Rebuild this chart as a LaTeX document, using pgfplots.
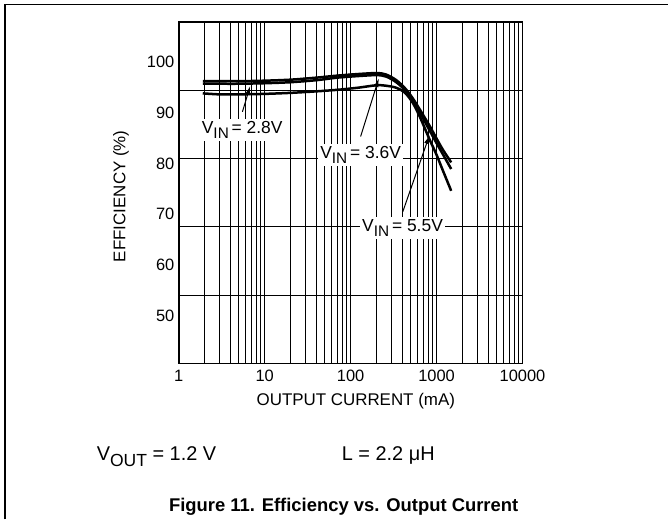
\documentclass[border=0pt]{standalone}
\usepackage{fontspec}
\setmainfont{Liberation Sans}
\usepackage{graphicx}
\usepackage{pgfplots}
\pgfplotsset{compat=1.18}
\usetikzlibrary{arrows.meta}
\newcommand{\sub}[1]{\raisebox{-0.28em}{\scalebox{0.88}{#1}}}
\begin{document}
\begin{tikzpicture}
\path (0,0) rectangle (669bp,520bp);
\draw[line width=1.4bp] (5bp,0bp) -- (5bp,515.5bp) -- (669bp,515.5bp);
\begin{axis}[
  at={(179bp,156bp)}, anchor=south west,
  scale only axis, width=344bp, height=342bp,
  xmode=log, xmin=1, xmax=10000,
  ymin=40.55, ymax=107.87,
  axis line style={line width=1.6bp},
  xtick={1,10,100,1000,10000},
  xticklabels={1,10,100,1000,10000},
  minor xtick={2,3,4,5,6,7,8,9,20,30,40,50,60,70,80,90,200,300,400,500,600,700,800,900,2000,3000,4000,5000,6000,7000,8000,9000},
  xmajorgrids, xminorgrids,
  grid style={line width=0.9bp, black},
  minor grid style={line width=0.9bp, black},
  major tick length=0pt, minor tick length=0pt,
  ytick={50,60,70,80,90,100},
  extra y ticks={54.01,67.48,80.94,94.41},
  extra y tick labels={},
  extra y tick style={grid=major, major tick length=0pt},
  /pgf/number format/assume math mode=true,
  tick label style={font=\fontsize{16.5}{19}\selectfont},
  xticklabel style={yshift=-3bp},
  yticklabel style={xshift=-1bp},
  xlabel={OUTPUT CURRENT (mA)},
  ylabel={EFFICIENCY (\%)},
  label style={font=\fontsize{17}{20}\selectfont},
  xlabel style={at={(axis description cs:0.515,0)}, anchor=center, yshift=-38bp},
  ylabel style={at={(axis description cs:0,0.49)}, anchor=center, yshift=58bp},
  clip=false,
]
\addplot[black, line width=2.5bp, smooth] coordinates {
(1.9,96.2)(3,96.2)(5,96.2)(10,96.3)(20,96.5)(40,96.9)(70,97.3)(120,97.6)(200,97.8)(260,97.5)(340,96.4)(430,94.8)(530,92.8)(650,90.4)(830,87.4)(1000,84.9)(1185,82.7)(1480,80.2)};
\addplot[black, line width=2.5bp, smooth] coordinates {
(1.9,95.7)(3,95.7)(5,95.7)(10,95.8)(20,96.0)(40,96.4)(70,96.9)(120,97.2)(200,97.4)(260,97.1)(340,96.0)(430,94.4)(530,92.3)(650,89.8)(830,86.5)(1000,84.0)(1185,81.8)(1480,78.9)};
\addplot[black, line width=2.5bp, smooth] coordinates {
(1.9,93.8)(3,93.6)(5,93.6)(10,93.7)(20,93.9)(40,94.2)(70,94.5)(120,94.9)(200,95.4)(260,95.3)(340,94.9)(430,93.9)(530,91.9)(650,88.9)(830,84.7)(1000,81.7)(1185,78.6)(1480,74.6)};
\draw[line width=1bp, -{Latex[length=9bp,width=5bp]}] (axis cs:5.5,90.16) -- (axis cs:6.78,95.28);
\draw[line width=1bp, -{Latex[length=9bp,width=5bp]}] (axis cs:130.7,85.3) -- (axis cs:213,96.8);
\draw[line width=1bp, -{Latex[length=9bp,width=5bp]}] (axis cs:405,70.5) -- (axis cs:829,85.6);
\node[fill=white, inner sep=2.5bp, font=\fontsize{17.5}{20}\selectfont] at (axis cs:5.47,86.6) {V\sub{IN}\,=\ 2.8V};
\node[fill=white, inner sep=2.5bp, font=\fontsize{17.5}{20}\selectfont] at (axis cs:130.7,81.7) {V\sub{IN}\,=\ 3.6V};
\node[fill=white, inner sep=2.5bp, font=\fontsize{17.5}{20}\selectfont] at (axis cs:402,67.2) {V\sub{IN}\,=\ 5.5V};
\end{axis}
\node[anchor=base west, inner sep=0pt, font=\fontsize{20}{24}\selectfont] at (96.7bp,59bp) {V\sub{OUT} = 1.2 V};
\node[anchor=base west, inner sep=0pt, font=\fontsize{20}{24}\selectfont] at (342bp,59bp) {L = 2.2 μH};
\node[anchor=base west, inner sep=0pt, font=\fontsize{18.5}{22}\selectfont\bfseries] at (169bp,7.5bp) {Figure 11. Efficiency vs. Output Current};
\end{tikzpicture}
\end{document}
